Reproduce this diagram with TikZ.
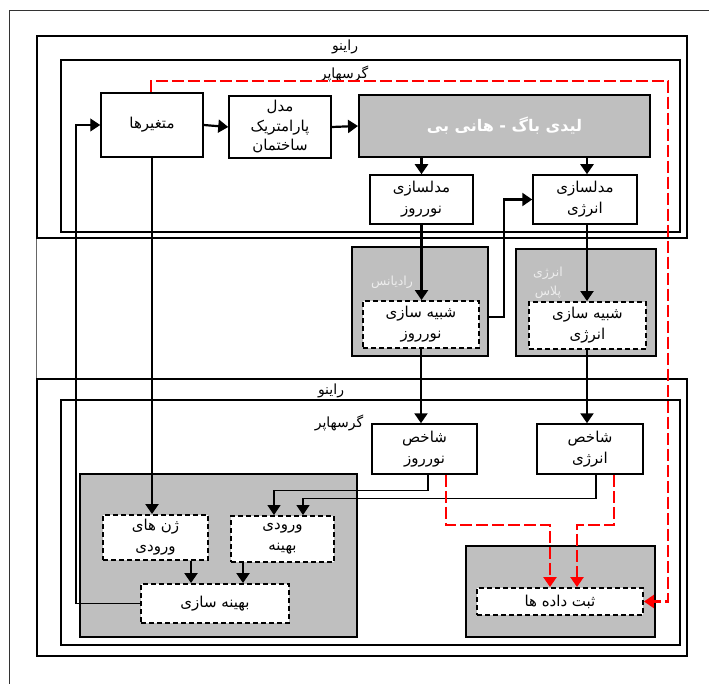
\documentclass[tikz,border=0pt]{standalone}
\usepackage{fontspec}
\newfontfamily\arabicfont[Script=Arabic]{DejaVu Sans}
\TeXXeTstate=1
\usetikzlibrary{arrows.meta,positioning}
\definecolor{Ink}{HTML}{000000}
\definecolor{ToolGray}{HTML}{BFBFBF}
\definecolor{LinkRed}{HTML}{FF0000}
\newcommand{\fa}[1]{{\arabicfont\beginR #1\endR}}
\tikzset{
  outer frame/.style={draw=Ink, line width=1.7pt},
  inner frame/.style={draw=Ink, line width=1.5pt},
  tool group/.style={draw=Ink, fill=ToolGray, line width=2pt},
  solid step/.style={draw=Ink, fill=white, line width=1.5pt,
    align=center, text=Ink, font=\fontsize{15}{21}\selectfont, inner sep=1pt},
  dashed step/.style={draw=Ink, fill=white, line width=1.9pt, dash pattern=on 5pt off 3pt,
    align=center, text=Ink, font=\fontsize{15}{21}\selectfont, inner sep=1pt},
  black flow/.style={-{Triangle[length=10pt,width=13pt]}, draw=Ink, line width=2.2pt},
  thin flow/.style={-{Triangle[length=10pt,width=13pt]}, draw=Ink, line width=1.3pt},
  red flow/.style={-{Triangle[length=10pt,width=13pt]}, draw=LinkRed, line width=2.3pt,
    dash pattern=on 12pt off 4pt},
  frame title/.style={font=\fontsize{14}{16}\selectfont, text=Ink, inner sep=0pt},
  tool title/.style={font=\fontsize{12.5}{19}\selectfont, text=white!93!black, align=center, inner sep=0pt},
}

\begin{document}
\begin{tikzpicture}[x=1pt, y=-1pt]
  \useasboundingbox (0,0) rectangle (709,684);
  % page frame, cut at the right and bottom
  \draw[draw=Ink!80, line width=1pt] (9,684) -- (9,11) -- (709,11);

  \node[outer frame, minimum width=650pt, minimum height=202pt] (rhinoTop) at (362,137) {};
  \node[inner frame, minimum width=619pt, minimum height=172pt] (grassTop) at (370.5,146) {};
  \node[outer frame, minimum width=650pt, minimum height=277pt] (rhinoBot) at (362,517.5) {};
  \node[inner frame, minimum width=619pt, minimum height=245pt] (grassBot) at (370.5,522.5) {};
  \draw[draw=Ink!60, line width=1.2pt] (rhinoTop.south west) -- (rhinoBot.north west);

  \node[frame title] at (345,47) {\fa{راینو}};
  \node[frame title] at (344,74) {\fa{گرسهاپر}};
  \node[frame title] at (331,391) {\fa{راینو}};
  \node[frame title] at (339,423) {\fa{گرسهاپر}};

  % simulation engines
  \node[tool group, minimum width=291pt, minimum height=62pt] (ladybug) at (504.5,126)
    {\fontsize{16}{18}\selectfont\bfseries\color{white}\fa{لیدی باگ - هانی بی}};
  \node[tool group, minimum width=136pt, minimum height=109pt] (radiance) at (420,301.5) {};
  \node[tool group, minimum width=140pt, minimum height=107pt] (energyplus) at (586,302.5) {};
  \node[tool group, minimum width=277pt, minimum height=163pt] (optGroup) at (218.5,555.5) {};
  \node[tool group, minimum width=189pt, minimum height=91pt] (recGroup) at (560.5,591.5) {};
  \node[tool title] at (392,282) {\fa{رادیانس}};
  \node[tool title] at (548,283) {\fa{انرژی}\\\fa{پلاس}};

  \node[solid step, minimum width=102pt, minimum height=64pt] (vars) at (152,125) {\fa{متغیرها}};
  \node[solid step, minimum width=102pt, minimum height=62pt, font=\fontsize{15}{19.5}\selectfont] (param) at (280,127)
    {\fa{مدل}\\\fa{پارامتریک}\\\fa{ساختمان}};
  \node[solid step, minimum width=103pt, minimum height=49pt] (modDay) at (421.5,199.5)
    {\fa{مدلسازی}\\\fa{نورروز}};
  \node[solid step, minimum width=104pt, minimum height=49pt] (modEnergy) at (585,199.5)
    {\fa{مدلسازی}\\\fa{انرژی}};

  \node[dashed step, minimum width=116pt, minimum height=47pt] (simDay) at (421,324.5)
    {\fa{شبیه سازی}\\\fa{نورروز}};
  \node[dashed step, minimum width=117pt, minimum height=47pt] (simEnergy) at (587.5,325.5)
    {\fa{شبیه سازی}\\\fa{انرژی}};

  \node[solid step, minimum width=105pt, minimum height=50pt] (idxDay) at (424.5,449)
    {\fa{شاخص}\\\fa{نورروز}};
  \node[solid step, minimum width=106pt, minimum height=50pt] (idxEnergy) at (590,449)
    {\fa{شاخص}\\\fa{انرژی}};

  \node[dashed step, minimum width=105pt, minimum height=45pt] (genes) at (155.5,537.5)
    {\fa{ژن های}\\\fa{ورودی}};
  \node[dashed step, minimum width=103pt, minimum height=46pt] (optInput) at (282.5,539)
    {\fa{ورودی}\\\fa{بهینه}};
  \node[dashed step, minimum width=148pt, minimum height=39pt] (optim) at (215,603.5)
    {\fa{بهینه سازی}};
  \node[dashed step, minimum width=166pt, minimum height=27pt] (record) at (560,601.5)
    {\fa{ثبت داده ها}};

  \coordinate (redCorner) at (668,81);

  \draw[black flow] (vars.east) -- (param.west);
  \draw[black flow] (param.east) -- (ladybug.west);
  \draw[black flow] (modDay.north |- ladybug.south) -- (modDay.north);
  \draw[black flow] ([xshift=2pt]modEnergy.north |- ladybug.south) -- ([xshift=2pt]modEnergy.north);
  \draw[black flow] (modDay.south) -- (modDay.south |- simDay.north);
  \draw[black flow] ([xshift=2pt]modEnergy.south) -- ([xshift=2pt]modEnergy.south |- simEnergy.north);
  \draw[black flow] ([yshift=-15.5pt]radiance.east) -- ++(15,0) |- (modEnergy.west);
  \draw[black flow] (simDay.south) -- (simDay.south |- idxDay.north);
  \draw[black flow] ([xshift=-0.5pt]simEnergy.south) -- ([xshift=-0.5pt]simEnergy.south |- idxEnergy.north);
  \draw[black flow] (vars.south) -- (vars.south |- genes.north);
  \draw[thin flow] (optim.west) -- ++(-64,0) |- (vars.west);
  \draw[thin flow] ([xshift=3.5pt]idxDay.south) -- ++(0,16) -| ([xshift=-8.5pt]optInput.north);
  \draw[thin flow] ([xshift=6pt]idxEnergy.south) -- ++(0,24) -| ([xshift=20.5pt]optInput.north);
  \draw[black flow] ([xshift=35.5pt]genes.south) -- ([xshift=35.5pt]genes.south |- optim.north);
  \draw[black flow] ([xshift=-39.5pt]optInput.south) -- ([xshift=-39.5pt]optInput.south |- optim.north);
  \draw[red flow] ([xshift=-1pt]vars.north) |- (redCorner) |- (record.east);
  \draw[red flow] ([xshift=21.5pt]idxDay.south) -- ++(0,50) -| ([xshift=-10pt]record.north);
  \draw[red flow] ([xshift=24pt]idxEnergy.south) -- ++(0,50) -| ([xshift=17pt]record.north);
\end{tikzpicture}
\end{document}
